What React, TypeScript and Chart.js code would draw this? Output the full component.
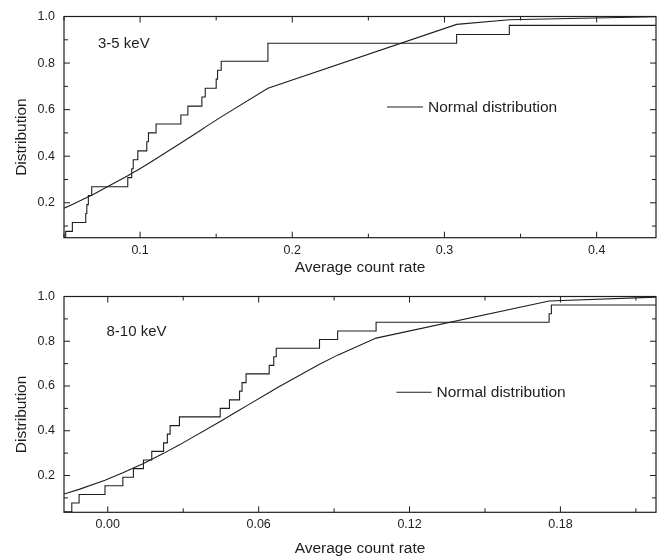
import React, { useEffect, useRef } from "react";
import { Chart, registerables } from "chart.js";

Chart.register(...registerables);

const FONT = "'Liberation Sans', Arial, Helvetica, sans-serif";
const INK = "#1e1e1e";

// ---------- Panel 1: 3-5 keV ----------
const topStepX = [0.045, 0.0511, 0.0555, 0.0643, 0.065, 0.066, 0.0682, 0.0919, 0.0945, 0.0955, 0.0985, 0.1044, 0.1055, 0.1105, 0.1268, 0.1314, 0.1406, 0.1428, 0.15, 0.1509, 0.1533, 0.184, 0.308, 0.3426, 0.44];
const topStepY = [0.038, 0.077, 0.115, 0.154, 0.192, 0.231, 0.269, 0.308, 0.346, 0.385, 0.423, 0.462, 0.5, 0.538, 0.577, 0.615, 0.654, 0.692, 0.731, 0.769, 0.808, 0.885, 0.923, 0.962, 0.962];
const topNormX = [0.05, 0.0555, 0.0643, 0.0682, 0.0919, 0.0955, 0.0985, 0.1055, 0.1105, 0.1268, 0.1314, 0.1406, 0.1428, 0.15, 0.1533, 0.184, 0.308, 0.3426, 0.44];
const topNormY = [0.177, 0.193, 0.22, 0.232, 0.316, 0.33, 0.341, 0.369, 0.389, 0.457, 0.476, 0.515, 0.525, 0.555, 0.569, 0.692, 0.966, 0.986, 0.999];
const topXMajor = [0.1, 0.2, 0.3, 0.4];
const topXMinor = [0.05, 0.15, 0.25, 0.35];

// ---------- Panel 2: 8-10 keV ----------
const bottomStepX = [-0.02, -0.0143, -0.0114, -0.0011, 0.006, 0.0102, 0.0142, 0.0175, 0.0222, 0.0237, 0.0248, 0.0285, 0.0447, 0.0484, 0.0524, 0.0534, 0.055, 0.0642, 0.066, 0.067, 0.0842, 0.0914, 0.1067, 0.1755, 0.1764, 0.218];
const bottomStepY = [0.038, 0.077, 0.115, 0.154, 0.192, 0.231, 0.269, 0.308, 0.346, 0.385, 0.423, 0.462, 0.5, 0.538, 0.577, 0.615, 0.654, 0.692, 0.731, 0.769, 0.808, 0.846, 0.885, 0.923, 0.962, 0.962];
const bottomNormX = [-0.0174, -0.0114, -0.0011, 0.006, 0.0142, 0.0222, 0.0285, 0.0447, 0.0524, 0.055, 0.0642, 0.067, 0.0842, 0.0914, 0.1067, 0.1755, 0.218];
const bottomNormY = [0.117, 0.138, 0.179, 0.212, 0.254, 0.299, 0.337, 0.441, 0.493, 0.51, 0.571, 0.59, 0.697, 0.738, 0.814, 0.98, 0.997];
const bottomXMajor = [0, 0.06, 0.12, 0.18];
const bottomXMinor = [0.03, 0.09, 0.15, 0.21];

// ---------- shared y ----------
const yMajor = [0.2, 0.4, 0.6, 0.8, 1.0];
const yMinor = [0.1, 0.3, 0.5, 0.7, 0.9];

const xTitle = "Average count rate";
const yTitle = "Distribution";
const legendText = "Normal distribution";

type PanelProps = {
  stepX: number[];
  stepY: number[];
  normX: number[];
  normY: number[];
  xMin: number;
  xMax: number;
  yMin: number;
  xMajor: number[];
  xMinor: number[];
  xDecimals: number;
  label: string;
  padTop: number;
  xAxisHeight: number;
  titlePadBottom: number;
  labelPos: { x: number; y: number };
  legendPos: { x1: number; x2: number; y: number };
};

function Panel(p: PanelProps) {
  const ref = useRef<HTMLCanvasElement | null>(null);
  useEffect(() => {
    if (!ref.current) return;
    const stepData = p.stepX.map((x, i) => ({ x, y: p.stepY[i] }));
    const normData = p.normX.map((x, i) => ({ x, y: p.normY[i] }));
    const framePlugin = {
      id: "frameTicks",
      afterDatasetsDraw(chart: any) {
        const { ctx, chartArea: a, scales } = chart;
        const xs = scales.x;
        const ys = scales.y;
        ctx.save();
        ctx.strokeStyle = INK;
        ctx.lineWidth = 1.2;
        ctx.strokeRect(a.left, a.top, a.right - a.left, a.bottom - a.top);
        ctx.lineWidth = 1;
        const drawX = (vals: number[], len: number) => {
          vals.forEach((v) => {
            const px = xs.getPixelForValue(v);
            if (px < a.left - 0.5 || px > a.right + 0.5) return;
            ctx.beginPath();
            ctx.moveTo(px, a.bottom);
            ctx.lineTo(px, a.bottom - len);
            ctx.moveTo(px, a.top);
            ctx.lineTo(px, a.top + len);
            ctx.stroke();
          });
        };
        const drawY = (vals: number[], len: number) => {
          vals.forEach((v) => {
            const py = ys.getPixelForValue(v);
            if (py < a.top - 0.5 || py > a.bottom + 0.5) return;
            ctx.beginPath();
            ctx.moveTo(a.left, py);
            ctx.lineTo(a.left + len, py);
            ctx.moveTo(a.right, py);
            ctx.lineTo(a.right - len, py);
            ctx.stroke();
          });
        };
        drawX(p.xMajor, 6);
        drawX(p.xMinor, 4);
        drawY(yMajor, 6);
        drawY(yMinor, 4);

        // inset label
        ctx.fillStyle = INK;
        ctx.font = `15px ${FONT}`;
        ctx.textAlign = "left";
        ctx.textBaseline = "middle";
        ctx.fillText(p.label, p.labelPos.x, p.labelPos.y);

        // legend
        ctx.beginPath();
        ctx.lineWidth = 1.1;
        ctx.moveTo(p.legendPos.x1, p.legendPos.y);
        ctx.lineTo(p.legendPos.x2, p.legendPos.y);
        ctx.stroke();
        ctx.font = `15.5px ${FONT}`;
        ctx.fillText(legendText, p.legendPos.x2 + 5, p.legendPos.y + 0.5);

        // y title
        ctx.save();
        ctx.translate(21.5, (a.top + a.bottom) / 2 + 10);
        ctx.rotate(-Math.PI / 2);
        ctx.textAlign = "center";
        ctx.textBaseline = "middle";
        ctx.font = `15.5px ${FONT}`;
        ctx.fillText(yTitle, 0, 0);
        ctx.restore();
        ctx.restore();
      },
    };

    const chart = new Chart(ref.current, {
      type: "scatter",
      data: {
        datasets: [
          {
            data: stepData,
            showLine: true,
            stepped: "before",
            borderColor: INK,
            borderWidth: 1.1,
            pointRadius: 0,
            clip: 0,
          } as any,
          {
            data: normData,
            showLine: true,
            borderColor: INK,
            borderWidth: 1.1,
            pointRadius: 0,
            tension: 0,
            clip: 0,
          } as any,
        ],
      },
      options: {
        animation: false,
        responsive: false,
        events: [],
        layout: { padding: { top: p.padTop, right: 4, left: 0, bottom: 0 } },
        plugins: { legend: { display: false }, tooltip: { enabled: false } },
        scales: {
          x: {
            type: "linear",
            min: p.xMin,
            max: p.xMax,
            grid: { display: false, drawTicks: false, tickLength: 0 },
            border: { display: false },
            afterBuildTicks: (s: any) => {
              s.ticks = p.xMajor.map((v) => ({ value: v }));
            },
            afterFit: (s: any) => {
              s.height = p.xAxisHeight;
            },
            ticks: {
              autoSkip: false,
              maxRotation: 0,
              padding: 5,
              color: INK,
              font: { family: FONT, size: 12.5 },
              callback: (v: any) => Number(v).toFixed(p.xDecimals),
            },
            title: {
              display: true,
              text: xTitle,
              color: INK,
              font: { family: FONT, size: 15.5 },
              padding: { top: 0, bottom: p.titlePadBottom },
            },
          },
          y: {
            type: "linear",
            min: p.yMin,
            max: 1.0,
            grid: { display: false, drawTicks: false, tickLength: 0 },
            border: { display: false },
            afterBuildTicks: (s: any) => {
              s.ticks = yMajor.map((v) => ({ value: v }));
            },
            afterFit: (s: any) => {
              s.width = 64;
            },
            ticks: {
              autoSkip: false,
              padding: 9,
              color: INK,
              font: { family: FONT, size: 12.5 },
              callback: (v: any) => Number(v).toFixed(1),
            },
          },
        },
      } as any,
      plugins: [framePlugin],
    });
    return () => chart.destroy();
  }, []);
  return <canvas ref={ref} width={660} height={280} style={{ display: "block", width: 660, height: 280 }} />;
}

export default function App() {
  return (
    <div style={{ position: "absolute", left: 0, top: 0, width: 660, height: 560, background: "#fff" }}>
      <Panel
        stepX={topStepX}
        stepY={topStepY}
        normX={topNormX}
        normY={topNormY}
        xMin={0.05}
        xMax={0.439}
        yMin={0.05}
        xMajor={topXMajor}
        xMinor={topXMinor}
        xDecimals={1}
        label="3-5 keV"
        padTop={13}
        xAxisHeight={42.3}
        titlePadBottom={2.7}
        labelPos={{ x: 98, y: 43.5 }}
        legendPos={{ x1: 387, x2: 423, y: 107 }}
      />
      <Panel
        stepX={bottomStepX}
        stepY={bottomStepY}
        normX={bottomNormX}
        normY={bottomNormY}
        xMin={-0.0174}
        xMax={0.218}
        yMin={0.0356}
        xMajor={bottomXMajor}
        xMinor={bottomXMinor}
        xDecimals={2}
        label="8-10 keV"
        padTop={3.5}
        xAxisHeight={47.7}
        titlePadBottom={1.7}
        labelPos={{ x: 106.5, y: 51.7 }}
        legendPos={{ x1: 396.5, x2: 431.5, y: 112.3 }}
      />
    </div>
  );
}
